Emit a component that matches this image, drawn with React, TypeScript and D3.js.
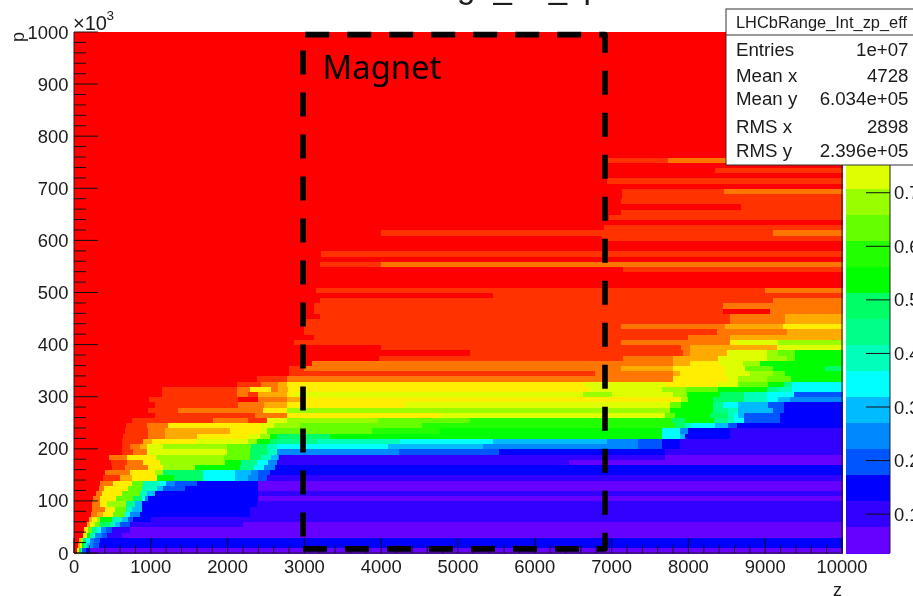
import React from "react";
import { scaleLinear, line } from "d3";

const width = 913;
const height = 596;
const plotLeft = 74;
const plotRight = 842;
const plotTop = 32;
const plotBottom = 553;
const barLeft = 845.5;
const barRight = 890;
const font = "'Liberation Sans', Arial, sans-serif";

// z axis is 0..10000, p axis in units of 10^3, one row every 10
const zDomain = [0, 10000];
const pDomain = [0, 1000];
const effDomain = [0.0275, 1];
const rowStep = 10;
const levelCount = 20;

const palette = [
  "#6600ff", "#3300ff", "#0000ff", "#0055ff", "#0088ff",
  "#00bbff", "#00ffff", "#00ffbb", "#00ff88", "#00ff66",
  "#00ff00", "#22ff00", "#66ff00", "#99ff00", "#ddff00",
  "#ffee00", "#ffaa00", "#ff7700", "#ff3300", "#ff0000",
];

const zTicks = [0, 1000, 2000, 3000, 4000, 5000, 6000, 7000, 8000, 9000, 10000];
const pTicks = [0, 100, 200, 300, 400, 500, 600, 700, 800, 900, 1000];
const effTicks = [0.1, 0.2, 0.3, 0.4, 0.5, 0.6, 0.7];

const magnetZ = [2982, 6914];
const magnetP = [8, 995];

const statsTitle = "LHCbRange_Int_zp_eff";
const statsNames = ["Entries", "Mean x", "Mean y", "RMS x", "RMS y"];
const statsValues = ["1e+07", "4728", "6.034e+05", "2898", "2.396e+05"];
const statsBaselines = [56, 81.5, 105, 133, 157];

// every row is a list of [z where the run ends, contour level], lowest p first
const rowRuns: number[][][] = [
  [[35,19],[60,15],[85,10],[110,6],[150,3],[190,2],[10000,0]],
  [[50,19],[75,16],[100,14],[130,10],[170,7],[210,5],[250,4],[330,3],[10000,2]],
  [[60,19],[85,16],[120,13],[160,9],[210,6],[260,4],[340,3],[10000,2]],
  [[120,19],[165,15],[210,10],[270,7],[360,4],[425,3],[620,1],[10000,0]],
  [[130,19],[180,15],[230,12],[300,8],[350,6],[420,4],[490,3],[730,1],[10000,0]],
  [[170,19],[210,16],[270,14],[340,12],[470,9],[540,7],[600,5],[730,3],[2200,1],[10000,0]],
  [[190,19],[240,16],[300,15],[340,13],[500,10],[620,7],[700,5],[770,3],[1000,2],[10000,1]],
  [[220,19],[300,17],[380,16],[510,15],[660,12],[730,6],[860,4],[2290,2],[10000,1]],
  [[230,19],[400,17],[530,15],[680,12],[750,7],[880,5],[2290,2],[10000,1]],
  [[230,19],[340,17],[430,15],[680,13],[800,8],[880,5],[2380,2],[10000,1]],
  [[250,19],[340,17],[550,15],[770,12],[880,9],[930,6],[970,4],[2400,2],[10000,0]],
  [[280,19],[360,17],[620,15],[860,12],[950,7],[1050,5],[2400,2],[10000,1]],
  [[320,19],[390,17],[700,15],[880,12],[1080,7],[1160,5],[1450,3],[2400,2],[10000,0]],
  [[340,19],[510,17],[750,15],[900,12],[1120,7],[1200,6],[1320,4],[1600,3],[2400,2],[10000,0]],
  [[380,19],[600,18],[760,16],[1080,15],[1300,10],[1680,9],[2100,6],[2270,5],[2400,4],[2510,3],[10000,1]],
  [[400,19],[730,17],[1050,15],[1160,13],[1680,9],[2100,6],[2300,5],[2400,4],[2550,3],[10000,2]],
  [[500,19],[660,18],[970,17],[1160,15],[1580,13],[2160,10],[2340,8],[2470,6],[2620,4],[10000,2]],
  [[480,19],[690,18],[900,17],[1120,15],[1960,13],[2180,10],[2380,8],[2530,6],[2640,4],[6450,1],[10000,0]],
  [[450,19],[690,17],[1070,15],[1950,13],[2290,12],[2430,9],[2560,7],[2650,5],[2670,4],[7700,1],[10000,0]],
  [[620,19],[770,18],[950,17],[1990,14],[2290,12],[2510,9],[2640,7],[4230,4],[5540,3],[7700,2],[10000,1]],
  [[620,19],[730,18],[860,17],[950,16],[1160,14],[1990,13],[2310,12],[2510,9],[2640,7],[4085,6],[5320,5],[7350,4],[7650,3],[7890,2],[10000,1]],
  [[620,19],[900,18],[1010,16],[1590,15],[2270,14],[2380,13],[2550,10],[2640,9],[3160,8],[4245,7],[5450,6],[6940,5],[7350,4],[7650,3],[7890,2],[10000,1]],
  [[635,19],[970,18],[1180,17],[1600,16],[2270,15],[2420,14],[2550,13],[2640,10],[3330,9],[7650,10],[7890,6],[7955,5],[8540,2],[10000,1]],
  [[660,19],[970,18],[1180,17],[2030,16],[2420,15],[2510,14],[3876,12],[4765,11],[7650,10],[7890,6],[8000,4],[8540,2],[10000,1]],
  [[680,19],[945,18],[1230,17],[2420,15],[2600,14],[2940,13],[4530,12],[7830,11],[7950,9],[8040,7],[8350,6],[8520,5],[8630,3],[10000,2]],
  [[750,19],[1815,18],[2270,17],[2510,18],[2770,14],[3960,13],[5160,12],[7780,11],[7950,9],[8330,10],[8520,8],[8590,7],[8720,6],[9190,3],[10000,2]],
  [[1055,19],[2360,18],[2770,17],[4765,15],[7700,14],[7825,12],[8280,10],[8520,9],[8590,7],[8650,6],[8720,5],[9190,3],[10000,2]],
  [[970,19],[1360,18],[2465,17],[2770,15],[7760,13],[8320,10],[8520,8],[8650,7],[9100,5],[9240,3],[10000,2]],
  [[1050,19],[2140,18],[2470,17],[2770,16],[4310,15],[7760,14],[7910,12],[8320,10],[8450,8],[8650,6],[9040,5],[9240,3],[10000,2]],
  [[980,19],[2130,18],[2400,19],[2770,17],[2960,16],[7900,15],[8000,13],[8320,10],[8720,9],[9020,7],[9170,6],[9320,5],[10000,4]],
  [[1140,19],[2120,18],[2270,17],[2400,18],[2770,16],[2860,15],[6630,14],[7000,13],[7800,14],[7980,13],[8410,10],[8720,9],[9020,7],[9370,6],[10000,3]],
  [[1140,19],[2120,18],[2290,17],[2570,15],[2660,17],[2790,16],[6720,15],[7650,14],[7970,13],[8390,12],[9020,10],[9170,8],[9350,7],[10000,6]],
  [[2120,19],[2440,18],[2660,17],[2770,16],[6650,15],[7700,14],[8370,15],[8650,14],[9040,12],[9240,10],[9350,8],[10000,6]],
  [[2380,19],[2770,18],[7800,17],[8500,15],[8650,14],[9020,13],[9340,12],[10000,10]],
  [[2800,19],[6780,18],[7800,17],[7890,16],[8480,15],[8800,14],[9100,13],[9260,12],[10000,10]],
  [[2800,19],[2990,18],[7118,17],[7800,16],[8480,15],[8735,14],[9105,12],[9780,10],[10000,9]],
  [[3100,19],[7800,17],[8020,16],[8410,15],[8715,14],[8930,13],[10000,10]],
  [[3970,19],[7150,18],[7800,17],[8390,16],[9020,14],[9280,13],[9390,12],[10000,10]],
  [[5160,19],[7930,18],[8020,17],[8500,16],[9020,14],[9170,13],[9390,12],[10000,10]],
  [[4000,19],[7910,18],[8020,17],[9150,16],[10000,14]],
  [[2870,19],[7118,18],[8540,17],[8650,15],[9170,14],[10000,13]],
  [[3120,19],[8000,18],[8540,17],[10000,16]],
  [[3000,19],[8368,18],[9280,17],[10000,16]],
  [[3000,19],[7118,18],[8476,17],[9236,16],[10000,15]],
  [[3010,19],[8540,18],[9260,17],[10000,16]],
  [[3200,19],[8540,18],[9260,17],[10000,16]],
  [[3120,19],[8455,18],[9060,19],[10000,17]],
  [[3120,19],[8455,18],[10000,17]],
  [[3203,19],[9100,18],[10000,17]],
  [[5450,19],[10000,18]],
  [[3150,19],[9000,18],[10000,17]],
  [[10000,19]],
  [[10000,19]],
  [[10000,19]],
  [[7150,19],[10000,18]],
  [[3205,19],[4000,18],[10000,17]],
  [[10000,19]],
  [[3220,19],[10000,18]],
  [[10000,19]],
  [[10000,19]],
  [[6870,19],[10000,18]],
  [[4000,19],[9100,18],[10000,17]],
  [[6900,19],[10000,18]],
  [[10000,19]],
  [[6960,19],[10000,18]],
  [[7120,19],[10000,18]],
  [[8690,19],[10000,18]],
  [[7120,19],[10000,18]],
  [[7130,19],[10000,18]],
  [[7130,19],[8460,18],[10000,17]],
  [[10000,19]],
  [[6936,19],[10000,18]],
  [[10000,19]],
  [[8345,19],[10000,18]],
  [[10000,19]],
  [[6957,19],[7740,18],[10000,17]],
  [[10000,19]],
  [[10000,19]],
  [[10000,19]],
  [[10000,19]],
  [[10000,19]],
  [[10000,19]],
  [[10000,19]],
  [[10000,19]],
  [[10000,19]],
  [[10000,19]],
  [[10000,19]],
  [[10000,19]],
  [[10000,19]],
  [[10000,19]],
  [[10000,19]],
  [[10000,19]],
  [[10000,19]],
  [[10000,19]],
  [[10000,19]],
  [[10000,19]],
  [[10000,19]],
  [[10000,19]],
  [[10000,19]],
  [[10000,19]],
];

const zScale = scaleLinear().domain(zDomain).range([plotLeft, plotRight]);
const pScale = scaleLinear().domain(pDomain).range([plotBottom, plotTop]);
const effScale = scaleLinear().domain(effDomain).range([plotBottom, plotTop]);
const levelScale = scaleLinear().domain([0, levelCount]).range([plotBottom, plotTop]);

const magnetPath = line<number[]>()
  .x((d) => zScale(d[0]))
  .y((d) => pScale(d[1]))([
  [magnetZ[0], magnetP[0]],
  [magnetZ[1], magnetP[0]],
  [magnetZ[1], magnetP[1]],
  [magnetZ[0], magnetP[1]],
  [magnetZ[0], magnetP[0]],
]) as string;

const App = () => (
  <svg
    width={width}
    height={height}
    style={{ position: "absolute", left: 0, top: 0 }}
    fontFamily={font}
    fill="#1a1a1a"
  >
    <defs>
      <filter id="soft" x="0" y="-20" width={width} height={height + 40} filterUnits="userSpaceOnUse">
        <feGaussianBlur stdDeviation="0.45" />
      </filter>
    </defs>
    <rect width={width} height={height} fill="#fff" />
    <g filter="url(#soft)">
      <text x={312} y={-2} fontSize={33}>LHCbRange_Int_zp</text>

      <g shapeRendering="crispEdges">
        {rowRuns.map((runs, i) =>
          runs.map((run, j) => {
            const start = j === 0 ? zDomain[0] : runs[j - 1][0];
            const top = pScale((i + 1) * rowStep);
            return (
              <rect
                key={`${i}-${j}`}
                x={zScale(start)}
                y={top}
                width={zScale(run[0]) - zScale(start) + 0.5}
                height={pScale(i * rowStep) - top + 0.5}
                fill={palette[run[1]]}
              />
            );
          })
        )}
      </g>

      {/* axes of the frame */}
      <path
        d={`M${plotLeft},${plotTop}V${plotBottom}H${plotRight}V${plotTop}`}
        fill="none"
        stroke="#222"
        strokeWidth={1}
      />
      {zScale.ticks(50).map((z) => {
        const major = z % 1000 === 0;
        return (
          <line
            key={z}
            x1={zScale(z)}
            x2={zScale(z)}
            y1={plotBottom}
            y2={plotBottom - (major ? 15 : 7.5)}
            stroke="#111"
          />
        );
      })}
      {pScale.ticks(50).map((p) => {
        const major = p % 100 === 0;
        return (
          <line
            key={p}
            x1={plotLeft}
            x2={plotLeft + (major ? 24 : 12)}
            y1={pScale(p)}
            y2={pScale(p)}
            stroke="#111"
          />
        );
      })}
      {zTicks.map((z) => (
        <text key={z} x={zScale(z)} y={573} fontSize={18.4} textAnchor="middle">
          {z}
        </text>
      ))}
      {pTicks.map((p) => (
        <text key={p} x={68.5} y={pScale(p) + 6.5} fontSize={18.4} textAnchor="end">
          {p}
        </text>
      ))}
      <text x={73} y={29.5} fontSize={20}>×10</text>
      <text x={106.5} y={20} fontSize={13.5}>3</text>
      <text transform={`translate(24,${plotTop}) rotate(-90)`} fontSize={18} textAnchor="end">
        p
      </text>
      <text x={plotRight} y={596} fontSize={18} textAnchor="end">z</text>

      {/* magnet outline */}
      <path
        d={magnetPath}
        fill="none"
        stroke="#000"
        strokeWidth={5.6}
        strokeDasharray="24 18"
        strokeLinejoin="round"
      />
      <text x={322.5} y={79} fontSize={32.8} fill="#000" fontFamily="'Noto Sans'">
        Magnet
      </text>

      {/* colour bar */}
      <g shapeRendering="crispEdges">
        {palette.map((color, i) => (
          <rect
            key={color}
            x={barLeft}
            y={levelScale(i + 1)}
            width={barRight - barLeft}
            height={levelScale(i) - levelScale(i + 1) + 0.5}
            fill={color}
          />
        ))}
      </g>
      <line x1={barRight} x2={barRight} y1={plotTop} y2={plotBottom} stroke="#222" />
      {effTicks.map((e) => (
        <g key={e}>
          <line x1={barRight - 24} x2={barRight} y1={effScale(e)} y2={effScale(e)} stroke="#111" />
          <text x={894} y={effScale(e) + 6.5} fontSize={18.4}>
            {e.toFixed(1)}
          </text>
        </g>
      ))}

      {/* statistics box */}
      <rect x={726} y={9} width={220} height={156} fill="#fff" stroke="#333" strokeWidth={1} />
      <line x1={726} x2={946} y1={35} y2={35} stroke="#333" />
      <text x={821.5} y={28} fontSize={16.4} textAnchor="middle">{statsTitle}</text>
      {statsNames.map((name, i) => (
        <g key={name} fontSize={18.7}>
          <text x={736} y={statsBaselines[i]}>{name}</text>
          <text x={908.5} y={statsBaselines[i]} textAnchor="end">{statsValues[i]}</text>
        </g>
      ))}
    </g>
  </svg>
);

export default App;
